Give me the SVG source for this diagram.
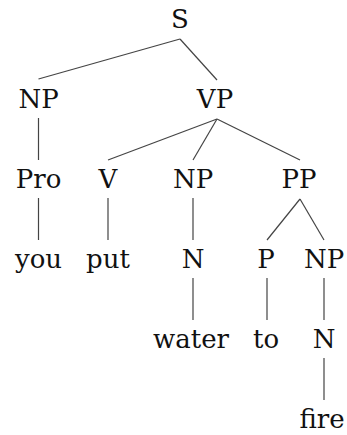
<svg xmlns="http://www.w3.org/2000/svg" width="347" height="435" viewBox="0 0 347 435">
<style>
text{font-family:"DejaVu Serif",serif;font-size:26px;fill:#111;text-anchor:middle}
.e line{stroke:#444;stroke-width:1.2}
</style>
<rect width="347" height="435" fill="#fff"/>
<g class="e" id="edges">
<line x1="180" y1="39" x2="38.5" y2="79"/>
<line x1="180" y1="39" x2="217" y2="80"/>
<line x1="38.5" y1="118" x2="38.5" y2="160"/>
<line x1="217" y1="119" x2="108" y2="160"/>
<line x1="217" y1="119" x2="193" y2="160"/>
<line x1="217" y1="119" x2="300" y2="160"/>
<line x1="38.5" y1="198" x2="38.5" y2="240"/>
<line x1="108" y1="198" x2="108" y2="240"/>
<line x1="193" y1="198" x2="193" y2="240"/>
<line x1="300" y1="199" x2="267" y2="240"/>
<line x1="300" y1="199" x2="324" y2="240"/>
<line x1="193" y1="278" x2="193" y2="320"/>
<line x1="267" y1="278" x2="267" y2="320"/>
<line x1="324" y1="278" x2="324" y2="320"/>
<line x1="324" y1="358" x2="324" y2="400"/>
</g>
<g id="n-S"><text x="180" y="28">S</text></g>
<g id="n-NP1"><text x="38.5" y="108">NP</text></g>
<g id="n-VP"><text x="215" y="108">VP</text></g>
<g id="n-Pro"><text x="38.5" y="188">Pro</text></g>
<g id="n-V"><text x="108" y="188">V</text></g>
<g id="n-NP2"><text x="193" y="188">NP</text></g>
<g id="n-PP"><text x="299" y="188">PP</text></g>
<g id="n-you"><text x="38.5" y="268">you</text></g>
<g id="n-put"><text x="108" y="268">put</text></g>
<g id="n-N1"><text x="193" y="268">N</text></g>
<g id="n-P"><text x="266" y="268">P</text></g>
<g id="n-NP3"><text x="324" y="268">NP</text></g>
<g id="n-water"><text x="191" y="348">water</text></g>
<g id="n-to"><text x="266" y="348">to</text></g>
<g id="n-N2"><text x="324" y="348">N</text></g>
<g id="n-fire"><text x="322" y="428">fire</text></g>
</svg>
